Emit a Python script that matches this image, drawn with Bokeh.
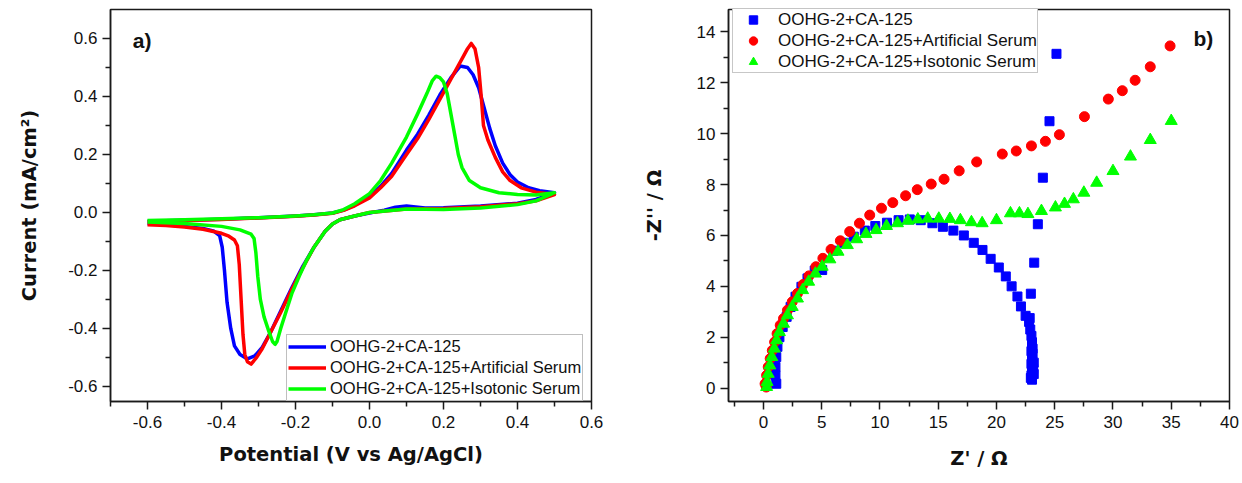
from bokeh.plotting import figure
from bokeh.models import FixedTicker, PrintfTickFormatter, Legend, LegendItem, Label, Range1d
from bokeh.layouts import row
from bokeh.embed import file_html
from bokeh.resources import INLINE

# ---------------- Panel a) cyclic voltammograms ----------------
series_a = ["OOHG-2+CA-125", "OOHG-2+CA-125+Artificial Serum", "OOHG-2+CA-125+Isotonic Serum"]

cv_blue_x = [-0.6, -0.5, -0.4, -0.3, -0.2, -0.15, -0.1, -0.07, -0.04, 0.0, 0.03, 0.06, 0.1, 0.13, 0.16, 0.19, 0.22, 0.245,
             0.265, 0.28, 0.295, 0.31, 0.325, 0.34, 0.36, 0.38, 0.40, 0.43, 0.46, 0.5,
             0.45, 0.4, 0.3, 0.2, 0.15, 0.1, 0.07, 0.04, 0.0, -0.04, -0.08, -0.1, -0.12, -0.15, -0.18, -0.21, -0.24,
             -0.27, -0.29, -0.31, -0.33, -0.35, -0.365, -0.375, -0.385, -0.392, -0.398, -0.405, -0.42, -0.45, -0.5,
             -0.55, -0.6]
cv_blue_y = [-0.03, -0.027, -0.023, -0.018, -0.012, -0.008, -0.002, 0.008, 0.025, 0.055, 0.09, 0.135, 0.215, 0.27, 0.335,
             0.405, 0.465, 0.505, 0.5, 0.475, 0.43, 0.36, 0.29, 0.23, 0.17, 0.13, 0.105, 0.085, 0.075, 0.068,
             0.045, 0.032, 0.022, 0.016, 0.015, 0.022, 0.018, 0.008, -0.002, -0.012, -0.025, -0.04, -0.065, -0.12,
             -0.185, -0.26, -0.34, -0.42, -0.465, -0.495, -0.505, -0.49, -0.46, -0.4, -0.31, -0.2, -0.12, -0.08,
             -0.065, -0.055, -0.048, -0.042, -0.038]

cv_red_x = [-0.6, -0.5, -0.4, -0.3, -0.2, -0.15, -0.1, -0.07, -0.04, 0.0, 0.03, 0.06, 0.1, 0.13, 0.16, 0.19, 0.22, 0.25,
            0.265, 0.275, 0.285, 0.295, 0.302, 0.308, 0.32, 0.34, 0.36, 0.38, 0.41, 0.45, 0.5,
            0.45, 0.4, 0.3, 0.2, 0.1, 0.0, -0.04, -0.08, -0.1, -0.12, -0.15, -0.18, -0.21, -0.24, -0.27, -0.29,
            -0.305, -0.32, -0.33, -0.337, -0.342, -0.347, -0.352, -0.357, -0.365, -0.38, -0.4, -0.45, -0.5, -0.55,
            -0.6]
cv_red_y = [-0.032, -0.028, -0.024, -0.019, -0.013, -0.009, -0.003, 0.007, 0.023, 0.05, 0.085, 0.125, 0.2, 0.255, 0.32,
            0.39, 0.46, 0.53, 0.565, 0.583, 0.565, 0.5, 0.4, 0.3, 0.25, 0.19, 0.14, 0.11, 0.085, 0.07, 0.062,
            0.04, 0.03, 0.02, 0.014, 0.012, 0.0, -0.012, -0.025, -0.04, -0.065, -0.12, -0.19, -0.265, -0.345, -0.42,
            -0.47, -0.5, -0.523, -0.515, -0.49, -0.42, -0.3, -0.18, -0.115, -0.095, -0.082, -0.072, -0.058, -0.05,
            -0.045, -0.042]

cv_green_x = [-0.6, -0.5, -0.4, -0.3, -0.2, -0.15, -0.1, -0.07, -0.04, 0.0, 0.03, 0.06, 0.1, 0.13, 0.155, 0.17, 0.18,
              0.19, 0.2, 0.21, 0.22, 0.23, 0.24, 0.25, 0.27, 0.3, 0.35, 0.4, 0.45, 0.5,
              0.45, 0.4, 0.3, 0.2, 0.1, 0.0, -0.04, -0.08, -0.1, -0.12, -0.15, -0.17, -0.19, -0.21, -0.225, -0.24,
              -0.25, -0.255, -0.262, -0.272, -0.285, -0.295, -0.302, -0.307, -0.312, -0.32, -0.35, -0.4, -0.5, -0.6]
cv_green_y = [-0.028, -0.025, -0.022, -0.018, -0.012, -0.008, -0.002, 0.01, 0.03, 0.065, 0.11, 0.17, 0.26, 0.34, 0.41,
              0.455, 0.47, 0.465, 0.45, 0.41, 0.34, 0.27, 0.2, 0.155, 0.11, 0.085, 0.068, 0.062, 0.06, 0.068,
              0.04, 0.027, 0.015, 0.01, 0.012, 0.0, -0.012, -0.025, -0.04, -0.065, -0.12, -0.165, -0.22, -0.28,
              -0.34, -0.4, -0.445, -0.455, -0.445, -0.41, -0.36, -0.3, -0.22, -0.14, -0.09, -0.075, -0.06, -0.048,
              -0.038, -0.033]

a_major_x = [-0.6, -0.4, -0.2, 0.0, 0.2, 0.4, 0.6]
a_minor_x = [-0.7, -0.5, -0.3, -0.1, 0.1, 0.3, 0.5]
a_major_y = [-0.6, -0.4, -0.2, 0.0, 0.2, 0.4, 0.6]
a_minor_y = [-0.5, -0.3, -0.1, 0.1, 0.3, 0.5]

# ---------------- Panel b) Nyquist plots ----------------
series_b = series_a

nyq_blue_x = [1.1, 1.03, 1.03, 1.1, 1.2, 1.37, 1.65, 1.99, 2.33, 2.75, 3.26, 3.78, 4.4, 5.04, 6.0, 6.9, 7.75, 8.7, 9.6,
              10.6, 11.6, 12.56, 13.5, 14.5, 15.4, 16.3, 17.2, 18.05, 18.8, 19.5, 20.2, 20.8, 21.3, 21.8, 22.1, 22.5,
              22.8, 22.9, 23.0, 23.05, 23.1, 23.1, 23.05, 23.0, 23.05, 23.1, 23.0, 22.95, 23.05, 23.2, 23.15, 22.85,
              23.0, 23.2, 22.95, 23.24, 23.55, 23.98, 24.55, 25.15]
nyq_blue_y = [0.17, 0.5, 0.83, 1.22, 1.62, 2.0, 2.4, 2.8, 3.19, 3.59, 3.98, 4.31, 4.62, 4.64, 5.4, 5.71, 5.95, 6.19, 6.37,
              6.5, 6.6, 6.63, 6.6, 6.48, 6.34, 6.19, 6.0, 5.71, 5.43, 5.08, 4.74, 4.39, 4.0, 3.6, 3.21, 2.84,
              2.6, 2.3, 2.05, 1.8, 1.55, 1.35, 1.15, 0.95, 0.8, 0.65, 0.5, 0.4, 0.33, 1.0, 0.75, 2.75,
              1.45, 0.55, 3.71, 4.93, 6.44, 8.27, 10.49, 13.14]

nyq_red_x = [0.24, 0.14, 0.27, 0.41, 0.58, 0.76, 0.96, 1.17, 1.44, 1.72, 2.06, 2.47, 2.92, 3.4, 3.9, 4.5, 5.1, 5.8,
             6.6, 7.4, 8.24, 9.12, 10.13, 11.1, 12.2, 13.2, 14.4, 15.5, 16.8, 18.3, 20.5, 21.7, 23.0, 24.2, 25.4,
             27.55, 29.6, 30.8, 31.9, 33.2, 34.9]
nyq_red_y = [0.04, 0.17, 0.5, 0.83, 1.16, 1.48, 1.81, 2.14, 2.47, 2.73, 3.06, 3.39, 3.72, 4.07, 4.41, 4.77, 5.1, 5.45,
             5.79, 6.15, 6.48, 6.8, 7.07, 7.29, 7.56, 7.8, 8.02, 8.21, 8.54, 8.89, 9.2, 9.32, 9.52, 9.7, 9.96,
             10.67, 11.36, 11.69, 12.1, 12.63, 13.45]

nyq_green_x = [0.27, 0.31, 0.41, 0.55, 0.72, 0.93, 1.13, 1.37, 1.72, 2.06, 2.47, 2.92, 3.36, 3.88, 4.46, 5.04, 5.7,
               6.4, 7.2, 8.0, 8.8, 9.67, 10.56, 11.5, 12.4, 13.25, 14.1, 15.05, 16.0, 16.9, 17.85, 18.77, 20.0,
               21.2, 21.97, 22.7, 23.86, 25.06, 25.84, 26.6, 27.5, 28.6, 30.0, 31.5, 33.2, 35.0]
nyq_green_y = [0.04, 0.24, 0.56, 0.89, 1.22, 1.55, 1.88, 2.2, 2.53, 2.86, 3.19, 3.52, 3.85, 4.18, 4.5, 4.77, 5.06,
               5.36, 5.62, 5.85, 6.06, 6.21, 6.37, 6.48, 6.58, 6.63, 6.66, 6.66, 6.65, 6.6, 6.52, 6.48, 6.6,
               6.87, 6.87, 6.84, 6.96, 7.1, 7.24, 7.42, 7.68, 8.07, 8.53, 9.1, 9.75, 10.5]

b_major_x = [0, 5, 10, 15, 20, 25, 30, 35, 40]
b_minor_x = [-2.5, 2.5, 7.5, 12.5, 17.5, 22.5, 27.5, 32.5, 37.5]
b_major_y = [0, 2, 4, 6, 8, 10, 12, 14]
b_minor_y = [1, 3, 5, 7, 9, 11, 13]

BLUE, RED, GREEN = "#0000ff", "#ff0000", "#00ff00"
TICK_FONT = "Liberation Sans"
TITLE_FONT = "DejaVu Sans"


def style_axes(p, tick_size, title_size, label_standoff_x, label_standoff_y):
    p.xgrid.visible = False
    p.ygrid.visible = False
    p.outline_line_color = "#1a1a1a"
    p.outline_line_width = 1.5
    p.outline_line_alpha = 1
    p.background_fill_color = "white"
    p.border_fill_color = "white"
    for ax in (p.xaxis[0], p.yaxis[0]):
        ax.axis_line_color = "#1a1a1a"
        ax.axis_line_width = 1.5
        ax.major_tick_line_color = "#1a1a1a"
        ax.major_tick_line_width = 1.5
        ax.minor_tick_line_color = "#1a1a1a"
        ax.minor_tick_line_width = 1.5
        ax.major_tick_in = 0
        ax.major_tick_out = 8
        ax.minor_tick_in = 0
        ax.minor_tick_out = 5
        ax.major_label_text_font = TICK_FONT
        ax.major_label_text_font_size = tick_size
        ax.major_label_text_color = "#111111"
        ax.axis_label_text_font = TITLE_FONT
        ax.axis_label_text_font_style = "bold"
        ax.axis_label_text_font_size = title_size
        ax.axis_label_text_color = "#111111"
    p.xaxis[0].major_label_standoff = 6
    p.yaxis[0].major_label_standoff = 5
    p.xaxis[0].axis_label_standoff = label_standoff_x
    p.yaxis[0].axis_label_standoff = label_standoff_y


# ---------- figure a ----------
p1 = figure(width=620, height=483, x_range=Range1d(-0.7, 0.6), y_range=Range1d(-0.652, 0.7),
            output_backend="svg", toolbar_location=None,
            min_border_left=110, min_border_right=29, min_border_top=9, min_border_bottom=82)
style_axes(p1, "17px", "19.5px", 12, 24)
p1.xaxis[0].ticker = FixedTicker(ticks=a_major_x, minor_ticks=a_minor_x)
p1.yaxis[0].ticker = FixedTicker(ticks=a_major_y, minor_ticks=a_minor_y)
p1.xaxis[0].formatter = PrintfTickFormatter(format="%.1f")
p1.yaxis[0].formatter = PrintfTickFormatter(format="%.1f")
p1.xaxis[0].axis_label = "Potential (V vs Ag/AgCl)"
p1.yaxis[0].axis_label = "Current (mA/cm²)"

r_b = p1.line(cv_blue_x, cv_blue_y, line_color=BLUE, line_width=3.5, line_join="round")
r_r = p1.line(cv_red_x, cv_red_y, line_color=RED, line_width=3.5, line_join="round")
r_g = p1.line(cv_green_x, cv_green_y, line_color=GREEN, line_width=3.5, line_join="round")

leg1 = Legend(items=[LegendItem(label=series_a[0], renderers=[r_b]),
                     LegendItem(label=series_a[1], renderers=[r_r]),
                     LegendItem(label=series_a[2], renderers=[r_g])],
              location=(176, 0), orientation="vertical", glyph_width=38, glyph_height=21,
              label_height=21, spacing=0, padding=1, margin=0, label_standoff=4,
              border_line_color="#808080", border_line_width=1.5,
              background_fill_color="white", background_fill_alpha=1,
              label_text_font=TICK_FONT, label_text_font_size="16.5px", label_text_color="#111111")
p1.add_layout(leg1)
p1.add_layout(Label(x=-0.64, y=0.593, text="a)", text_font=TICK_FONT, text_font_style="bold",
                    text_font_size="21px", text_baseline="middle", text_color="#111111"))

# ---------- figure b ----------
# (row layout aligns both plot frames; the y range is set so values sit at the reference's heights)
p2 = figure(width=622, height=483, x_range=Range1d(-3, 40), y_range=Range1d(-0.528, 14.882),
            output_backend="svg", toolbar_location=None,
            min_border_left=108, min_border_right=13, min_border_top=9, min_border_bottom=82)
style_axes(p2, "17px", "19.5px", 16, 28)
p2.xaxis[0].ticker = FixedTicker(ticks=b_major_x, minor_ticks=b_minor_x)
p2.yaxis[0].ticker = FixedTicker(ticks=b_major_y, minor_ticks=b_minor_y)
p2.xaxis[0].axis_label = "Z' / Ω"
p2.yaxis[0].axis_label = "-Z'' / Ω"

s_b = p2.scatter(nyq_blue_x, nyq_blue_y, marker="square", size=9, fill_color=BLUE, line_color=BLUE)
s_r = p2.scatter(nyq_red_x, nyq_red_y, marker="circle", size=10, fill_color=RED, line_color=RED)
s_g = p2.scatter(nyq_green_x, nyq_green_y, marker="triangle", size=12, fill_color=GREEN, line_color=GREEN)

leg2 = Legend(items=[LegendItem(label=series_b[0], renderers=[s_b]),
                     LegendItem(label=series_b[1], renderers=[s_r]),
                     LegendItem(label=series_b[2], renderers=[s_g])],
              location=(4, 328), orientation="vertical", glyph_width=40, glyph_height=21,
              label_height=21, spacing=0, padding=0, margin=0, label_standoff=5,
              border_line_color="#909090", border_line_width=1.5,
              background_fill_color="white", background_fill_alpha=1,
              label_text_font=TICK_FONT, label_text_font_size="17px", label_text_color="#111111")
p2.add_layout(leg2)
p2.add_layout(Label(x=36.9, y=13.74, text="b)", text_font=TICK_FONT, text_font_style="bold",
                    text_font_size="21px", text_baseline="middle", text_color="#111111"))

layout = row(p1, p2)
open("out.html", "w").write(file_html(layout, INLINE))
